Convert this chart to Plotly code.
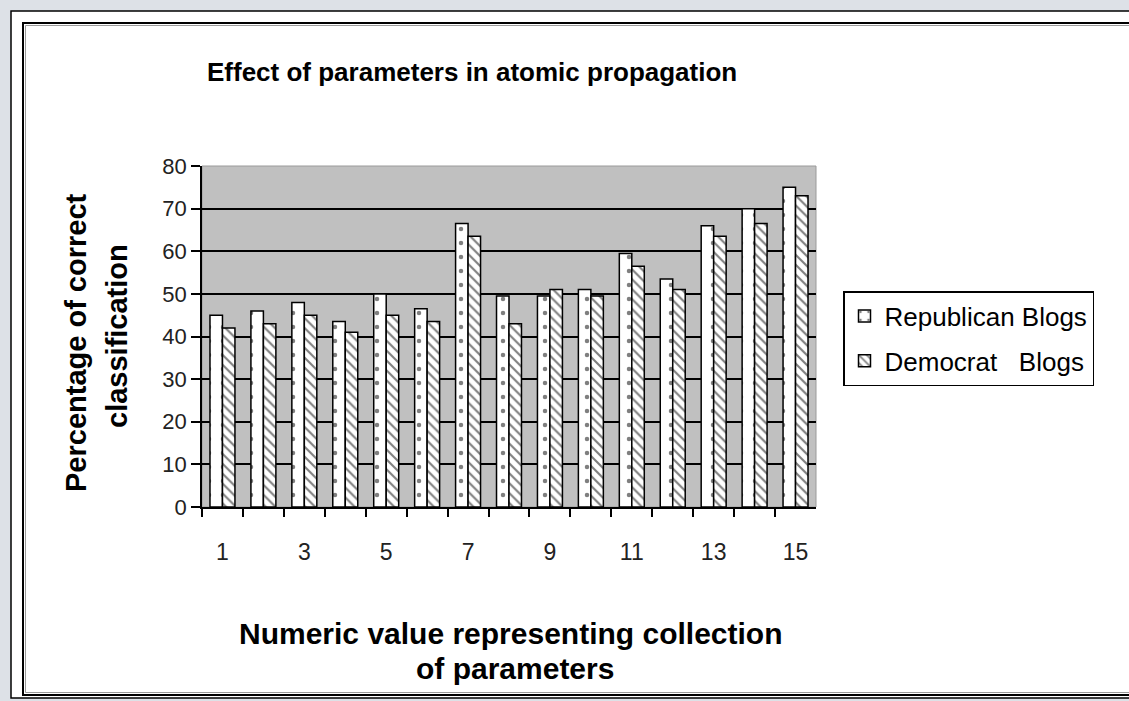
import plotly.graph_objects as go

# Parameter collections (category axis) and classification accuracy per blog group
params = [str(i) for i in range(1, 16)]
republican = [45, 46, 48, 43.5, 50, 46.5, 66.5, 49.5, 49.5, 51, 59.5, 53.5, 66, 70, 75]
democrat = [42, 43, 45, 41, 45, 43.5, 63.5, 43, 51, 49.5, 56.5, 51, 63.5, 66.5, 73]
x_tick_text = [p if int(p) % 2 else "" for p in params]
y_ticks = [0, 10, 20, 30, 40, 50, 60, 70, 80]

W, H = 1129, 701
FONT = "Liberation Sans, Arial, sans-serif"


def px(x):
    return x / W


def py(y):
    return 1 - y / H


fig = go.Figure()
fig.add_trace(go.Bar(
    x=params, y=republican, name="Republican Blogs", legendgroup="r",
    marker=dict(color="white", line=dict(color="black", width=1.5),
                pattern=dict(shape=".", fgcolor="black", bgcolor="white",
                             size=14, solidity=0.08)),
))
fig.add_trace(go.Bar(
    x=params, y=democrat, name="Democrat\u00a0\u00a0\u00a0Blogs", legendgroup="d",
    marker=dict(color="white", line=dict(color="black", width=1.5),
                pattern=dict(shape="\\", fgcolor="black", bgcolor="white",
                             size=7, solidity=0.3)),
))

shapes = [
    # outer frame
    dict(type="rect", xref="paper", yref="paper", x0=px(11), x1=px(1150), y0=py(698), y1=py(11),
         fillcolor="white", line=dict(color="black", width=1.5), layer="below"),
    # inner chart border (double line)
    dict(type="rect", xref="paper", yref="paper", x0=px(23), x1=px(1150), y0=py(695), y1=py(23),
         fillcolor="white", line=dict(color="black", width=2), layer="below"),
    dict(type="rect", xref="paper", yref="paper", x0=px(25.5), x1=px(1150), y0=py(692.5), y1=py(25.5),
         fillcolor="rgba(0,0,0,0)", line=dict(color="#9a9a9a", width=1), layer="below"),
    # grey plot area
    dict(type="rect", xref="x domain", yref="y domain", x0=0, x1=1, y0=0, y1=1,
         fillcolor="#c0c0c0", line=dict(color="#9a9a9a", width=1), layer="below"),
]

annotations = [
    dict(text="<b>Effect of parameters in atomic propagation</b>", x=px(472), y=py(72),
         xref="paper", yref="paper", showarrow=False, xanchor="center", yanchor="middle",
         font=dict(family=FONT, size=26, color="black")),
    dict(text="<b>Percentage of correct</b>", x=px(76), y=py(343), textangle=-90,
         xref="paper", yref="paper", showarrow=False, xanchor="center", yanchor="middle",
         font=dict(family=FONT, size=29, color="black")),
    dict(text="<b>classification</b>", x=px(117), y=py(336), textangle=-90,
         xref="paper", yref="paper", showarrow=False, xanchor="center", yanchor="middle",
         font=dict(family=FONT, size=29, color="black")),
    dict(text="<b>Numeric value representing collection</b>", x=px(511), y=py(633),
         xref="paper", yref="paper", showarrow=False, xanchor="center", yanchor="middle",
         font=dict(family=FONT, size=30, color="black")),
    dict(text="<b>of parameters</b>", x=px(515), y=py(668),
         xref="paper", yref="paper", showarrow=False, xanchor="center", yanchor="middle",
         font=dict(family=FONT, size=30, color="black")),
]

fig.update_layout(
    width=W, height=H, autosize=False,
    margin=dict(l=0, r=0, t=0, b=0, pad=0, autoexpand=False),
    paper_bgcolor="#dde1e7",
    plot_bgcolor="#c0c0c0",
    barmode="group", bargap=0.39, bargroupgap=0,
    showlegend=True,
    legend=dict(x=px(843), y=py(291), xanchor="left", yanchor="top",
                bgcolor="white", bordercolor="black", borderwidth=1.5,
                font=dict(family=FONT, size=26, color="black"),
                traceorder="grouped", tracegroupgap=8),
    shapes=shapes,
    annotations=annotations,
    xaxis=dict(domain=[px(202), px(816)], type="category", automargin=False,
               tickvals=params, ticktext=x_tick_text, tickson="boundaries",
               ticks="outside", ticklen=8, tickwidth=1.5, tickcolor="black",
               showline=True, linecolor="black", linewidth=1.5, showgrid=False,
               ticklabelstandoff=24,
               tickfont=dict(family=FONT, size=23, color="#222")),
    yaxis=dict(domain=[py(507), py(166)], range=[0, 80], tickvals=y_ticks, automargin=False,
               ticks="outside", ticklen=9, tickwidth=1.5, tickcolor="black",
               showline=True, linecolor="black", linewidth=1.5,
               showgrid=True, gridcolor="black", gridwidth=1.5, zeroline=False,
               tickfont=dict(family=FONT, size=22, color="#222")),
)

fig.write_html("out.html")
